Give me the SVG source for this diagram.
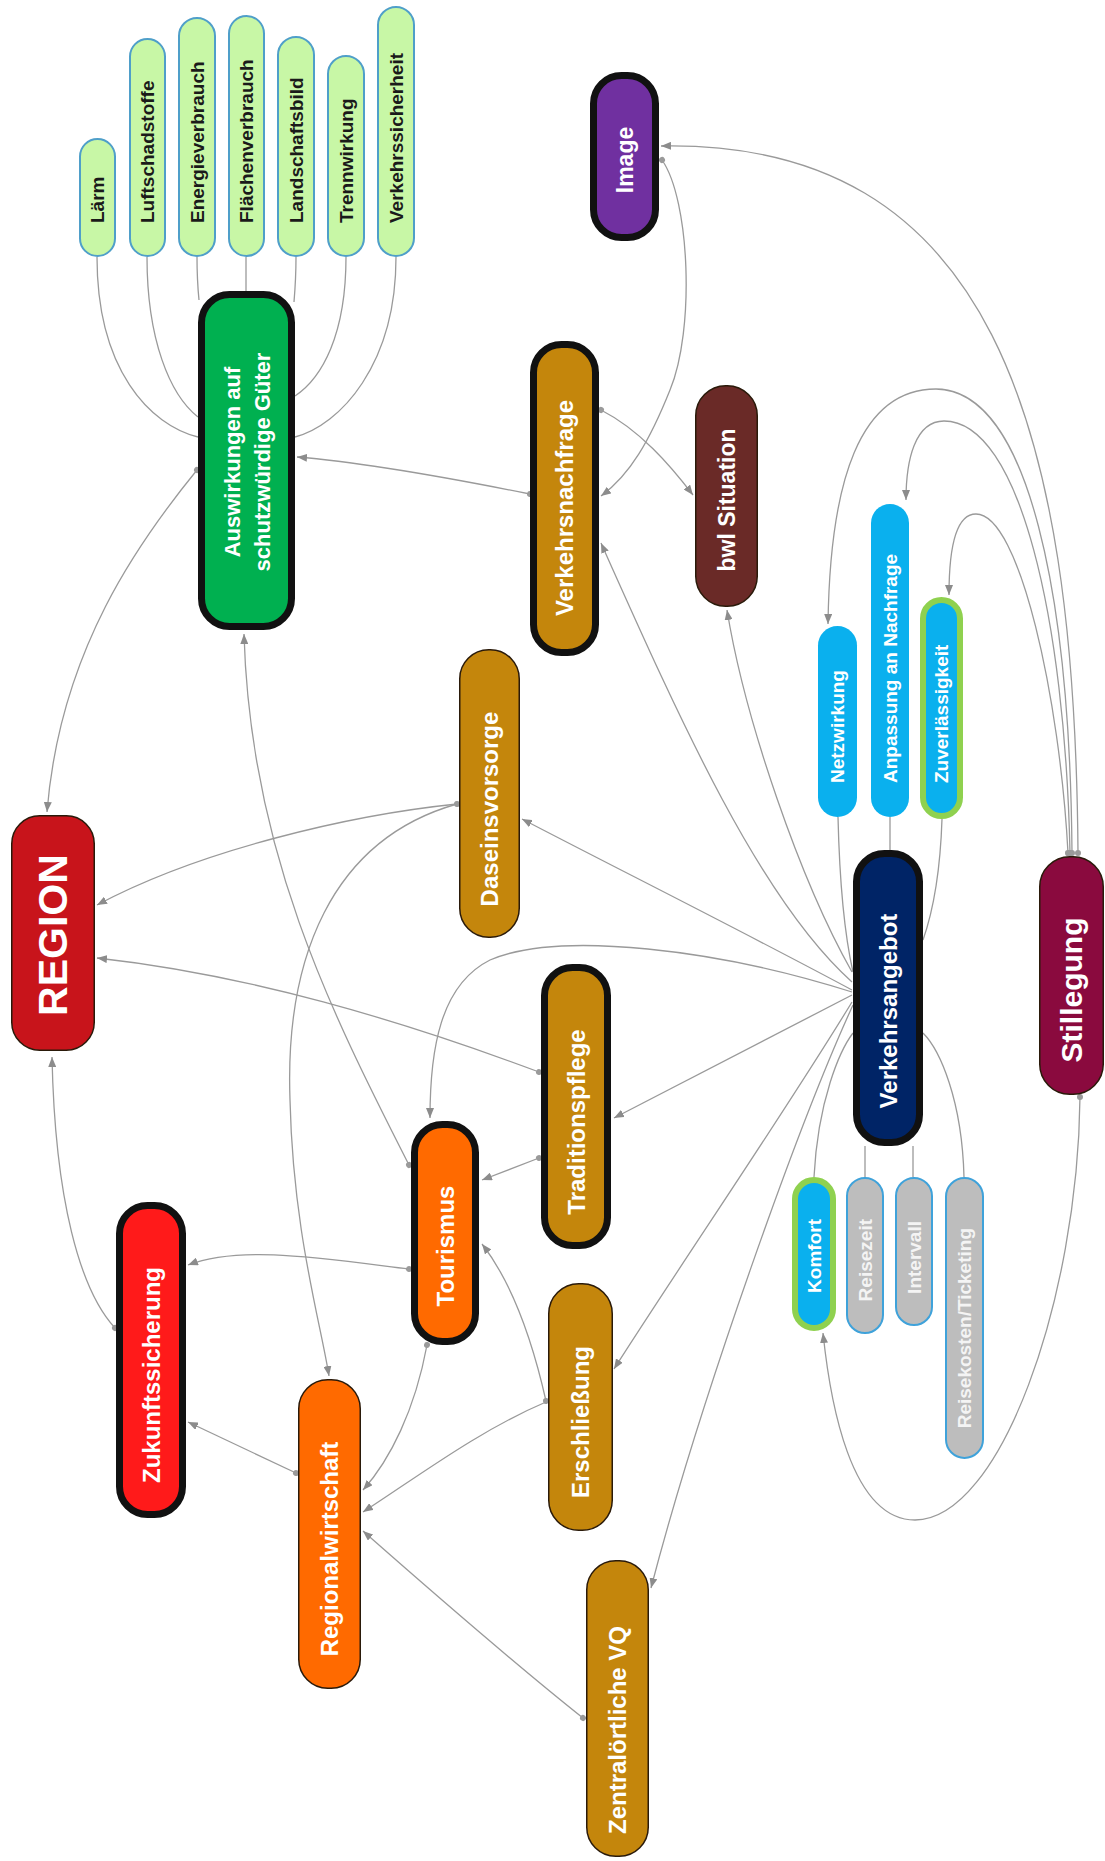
<svg xmlns="http://www.w3.org/2000/svg" width="1105" height="1861" viewBox="0 0 1105 1861">
<style>
.c{fill:none;stroke:#9a9a9a;stroke-width:1.3}
.a{marker-end:url(#arr)}
.s{marker-start:url(#dot)}
.t{font-family:"Liberation Sans",Arial,sans-serif;font-weight:bold;fill:#fff;text-anchor:middle;dominant-baseline:central}
.ts{text-anchor:start}
.te{text-anchor:end}
.thick{stroke:#111;stroke-width:7}
.thin{stroke:#2a1a0a;stroke-width:1.5}
.gold{fill:#c4860c}
.leaf{fill:#c8f7a6;stroke:#4f9fc9;stroke-width:2}
.lt{fill:#1a1a1a;font-size:19px}
.blue{fill:#0ab0ee}
.gray{fill:#bdbdbd;stroke:#3fa2da;stroke-width:2}
.gt{fill:#f4f4f4;font-size:19px}
.grn{stroke:#8fd14f;stroke-width:6}
</style>
<defs>
<marker id="arr" markerUnits="userSpaceOnUse" markerWidth="10" markerHeight="8" refX="10" refY="4" orient="auto"><path d="M0,0 L10,4 L0,8 z" fill="#8c8c8c"/></marker>
<marker id="dot" markerUnits="userSpaceOnUse" markerWidth="8" markerHeight="8" refX="4" refY="4" orient="auto"><circle cx="4" cy="4" r="3" fill="#9a9a9a"/></marker>
</defs>
<rect width="1105" height="1861" fill="#fff"/>
<g id="connectors">
<path class="c" d="M97,257 C97,370 150,425 198,437"/>
<path class="c" d="M147,257 C147,340 170,395 198,417"/>
<path class="c" d="M197,257 C197,275 198,290 199,300"/>
<path class="c" d="M246,257 L246,291"/>
<path class="c" d="M296,257 C296,275 295,290 294,302"/>
<path class="c" d="M346,257 C346,335 322,378 295,396"/>
<path class="c" d="M396,257 C396,365 340,425 295,437"/>
<path class="c a s" d="M530,494 C450,478 360,462 297,457"/>
<path class="c a s" d="M197,470 C140,540 60,650 47,812"/>
<path class="c a s" d="M457,804 C350,815 200,850 97,905"/>
<path class="c a" d="M457,804 C330,840 285,960 290,1100 C293,1230 320,1320 329,1376"/>
<path class="c a s" d="M539,1072 C400,1020 250,975 97,958"/>
<path class="c a s" d="M115,1328 C80,1290 55,1200 52,1057"/>
<path class="c a s" d="M409,1165 C330,1010 250,850 244,634"/>
<path class="c a" d="M852,992 C720,950 560,930 490,960 C440,985 430,1050 430,1118"/>
<path class="c a" d="M852,995 L614,1118"/>
<path class="c a s" d="M539,1158 L482,1180"/>
<path class="c a s" d="M546,1401 C530,1330 510,1280 482,1244"/>
<path class="c a s" d="M409,1269 C320,1258 240,1245 188,1265"/>
<path class="c a s" d="M296,1473 L188,1422"/>
<path class="c a s" d="M427,1345 C415,1410 390,1460 363,1490"/>
<path class="c a" d="M546,1402 C480,1430 420,1475 363,1512"/>
<path class="c a s" d="M583,1718 C510,1660 430,1590 363,1531"/>
<path class="c a" d="M852,990 C740,930 620,870 522,819"/>
<path class="c a" d="M852,982 C760,900 680,720 601,543"/>
<path class="c a" d="M852,972 C800,880 745,720 727,610"/>
<path class="c a" d="M852,1002 C780,1120 690,1250 614,1369"/>
<path class="c a" d="M853,1005 C800,1120 700,1400 651,1588"/>
<path class="c" d="M838,817 C840,900 848,950 853,972"/>
<path class="c" d="M890,817 L890,850"/>
<path class="c" d="M942,819 C940,880 930,920 923,940"/>
<path class="c" d="M814,1177 C818,1100 840,1050 853,1033"/>
<path class="c" d="M865,1146 L865,1177"/>
<path class="c" d="M913,1146 L913,1177"/>
<path class="c" d="M964,1177 C962,1100 940,1050 923,1033"/>
<path class="c a s" d="M1078,853 C1075,420 990,140 661,146"/>
<path class="c a s" d="M1072,853 C1070,600 1030,390 936,389 C860,389 830,480 828,624"/>
<path class="c a s" d="M1070,853 C1065,620 1020,421 944,421 C915,421 906,460 906,500"/>
<path class="c a s" d="M1068,853 C1060,700 1020,514 976,514 C955,514 949,550 949,595"/>
<path class="c a s" d="M1080,1097 C1078,1300 1000,1520 915,1520 C850,1520 830,1400 823,1333"/>
<path class="c a s" d="M662,160 C690,200 695,330 670,390 C650,440 630,475 601,496"/>
<path class="c a s" d="M601,410 C640,430 670,465 693,495"/>
</g>
<g id="n-laerm"><rect class="leaf" x="80" y="139" width="35" height="117" rx="17.5"/><text class="t ts lt" transform="translate(97.5,223) rotate(-90)">Lärm</text></g>
<g id="n-luft"><rect class="leaf" x="130" y="39" width="35" height="217" rx="17.5"/><text class="t ts lt" transform="translate(147.5,223) rotate(-90)">Luftschadstoffe</text></g>
<g id="n-energie"><rect class="leaf" x="179" y="18" width="36" height="238" rx="18"/><text class="t ts lt" transform="translate(197,223) rotate(-90)">Energieverbrauch</text></g>
<g id="n-flaeche"><rect class="leaf" x="229" y="16" width="35" height="240" rx="17.5"/><text class="t ts lt" transform="translate(246.5,223) rotate(-90)">Flächenverbrauch</text></g>
<g id="n-landschaft"><rect class="leaf" x="278" y="37" width="36" height="219" rx="18"/><text class="t ts lt" transform="translate(296,223) rotate(-90)">Landschaftsbild</text></g>
<g id="n-trenn"><rect class="leaf" x="328" y="56" width="36" height="200" rx="18"/><text class="t ts lt" transform="translate(346,223) rotate(-90)">Trennwirkung</text></g>
<g id="n-sicherheit"><rect class="leaf" x="378" y="7" width="36" height="249" rx="18"/><text class="t ts lt" transform="translate(396,223) rotate(-90)">Verkehrssicherheit</text></g>
<g id="n-auswirkungen"><rect class="thick" fill="#00b050" x="201.5" y="294.5" width="90" height="332" rx="28"/><text class="t" font-size="22" transform="translate(246.5,462) rotate(-90)"><tspan x="0" y="-15">Auswirkungen auf</tspan><tspan x="0" y="15">schutzwürdige Güter</tspan></text></g>
<g id="n-image"><rect class="thick" fill="#7030a0" x="593.5" y="75.5" width="62" height="162" rx="28"/><text class="t" font-size="23" transform="translate(624.5,160) rotate(-90)">Image</text></g>
<g id="n-nachfrage"><rect class="thick gold" x="533.5" y="344.5" width="62" height="308" rx="28"/><text class="t" font-size="24" transform="translate(564.5,508) rotate(-90)">Verkehrsnachfrage</text></g>
<g id="n-bwl"><rect class="thin" fill="#6a2a27" x="695.75" y="385.75" width="61.5" height="220.5" rx="30"/><text class="t" font-size="23" transform="translate(726.5,500) rotate(-90)">bwl Situation</text></g>
<g id="n-netz"><rect class="blue" x="818" y="626" width="39" height="191" rx="19.5"/><text class="t ts" font-size="19" transform="translate(837.5,783) rotate(-90)">Netzwirkung</text></g>
<g id="n-anpassung"><rect class="blue" x="871" y="504" width="38" height="313" rx="19"/><text class="t ts" font-size="19" transform="translate(890,783) rotate(-90)">Anpassung an Nachfrage</text></g>
<g id="n-zuverl"><rect class="blue grn" x="923" y="600" width="37" height="216" rx="18.5"/><text class="t ts" font-size="19" transform="translate(941.5,783) rotate(-90)">Zuverlässigkeit</text></g>
<g id="n-angebot"><rect class="thick" fill="#002466" x="856.5" y="853.5" width="63" height="289" rx="28"/><text class="t" font-size="24" transform="translate(888,1011) rotate(-90)">Verkehrsangebot</text></g>
<g id="n-stillegung"><rect class="thin" fill="#8a0a3e" x="1039.75" y="856.75" width="63.5" height="237.5" rx="30"/><text class="t" font-size="30" transform="translate(1071.5,990) rotate(-90)">Stillegung</text></g>
<g id="n-daseins"><rect class="thin gold" x="459.75" y="649.75" width="59.5" height="287.5" rx="29"/><text class="t" font-size="24" transform="translate(489.5,809) rotate(-90)">Daseinsvorsorge</text></g>
<g id="n-region"><rect class="thin" fill="#c8141b" x="11.75" y="815.75" width="82.5" height="234.5" rx="28"/><text class="t" font-size="41" transform="translate(53,935) rotate(-90)">REGION</text></g>
<g id="n-tradition"><rect class="thick gold" x="544.5" y="967.5" width="63" height="278" rx="28"/><text class="t" font-size="24" transform="translate(576,1122) rotate(-90)">Traditionspflege</text></g>
<g id="n-tourismus"><rect class="thick" fill="#ff6a00" x="414.5" y="1124.5" width="61" height="217" rx="28"/><text class="t" font-size="24" transform="translate(445,1246) rotate(-90)">Tourismus</text></g>
<g id="n-zukunft"><rect class="thick" fill="#ff1a1a" x="119.5" y="1205.5" width="63" height="309" rx="28"/><text class="t" font-size="24" transform="translate(151,1375) rotate(-90)">Zukunftssicherung</text></g>
<g id="n-regional"><rect class="thin" fill="#ff6a00" x="298.75" y="1379.75" width="61.5" height="308.5" rx="29"/><text class="t" font-size="24" transform="translate(329.5,1549) rotate(-90)">Regionalwirtschaft</text></g>
<g id="n-erschl"><rect class="thin gold" x="548.75" y="1283.75" width="63.5" height="246.5" rx="30"/><text class="t" font-size="24" transform="translate(580.5,1422) rotate(-90)">Erschließung</text></g>
<g id="n-zentral"><rect class="thin gold" x="586.75" y="1560.75" width="61.5" height="295.5" rx="29"/><text class="t" font-size="24" transform="translate(617.5,1730) rotate(-90)">Zentralörtliche VQ</text></g>
<g id="n-komfort"><rect class="blue grn" x="795" y="1180" width="38" height="148" rx="19"/><text class="t te" font-size="19" transform="translate(814,1219) rotate(-90)">Komfort</text></g>
<g id="n-reisezeit"><rect class="gray" x="847" y="1178" width="36" height="155" rx="18"/><text class="t te gt" transform="translate(865,1219) rotate(-90)">Reisezeit</text></g>
<g id="n-intervall"><rect class="gray" x="896" y="1178" width="36" height="147" rx="18"/><text class="t te gt" transform="translate(914,1221) rotate(-90)">Intervall</text></g>
<g id="n-reisekosten"><rect class="gray" x="946" y="1178" width="37" height="280" rx="18.5"/><text class="t te gt" transform="translate(964.5,1228) rotate(-90)">Reisekosten/Ticketing</text></g>
</svg>
